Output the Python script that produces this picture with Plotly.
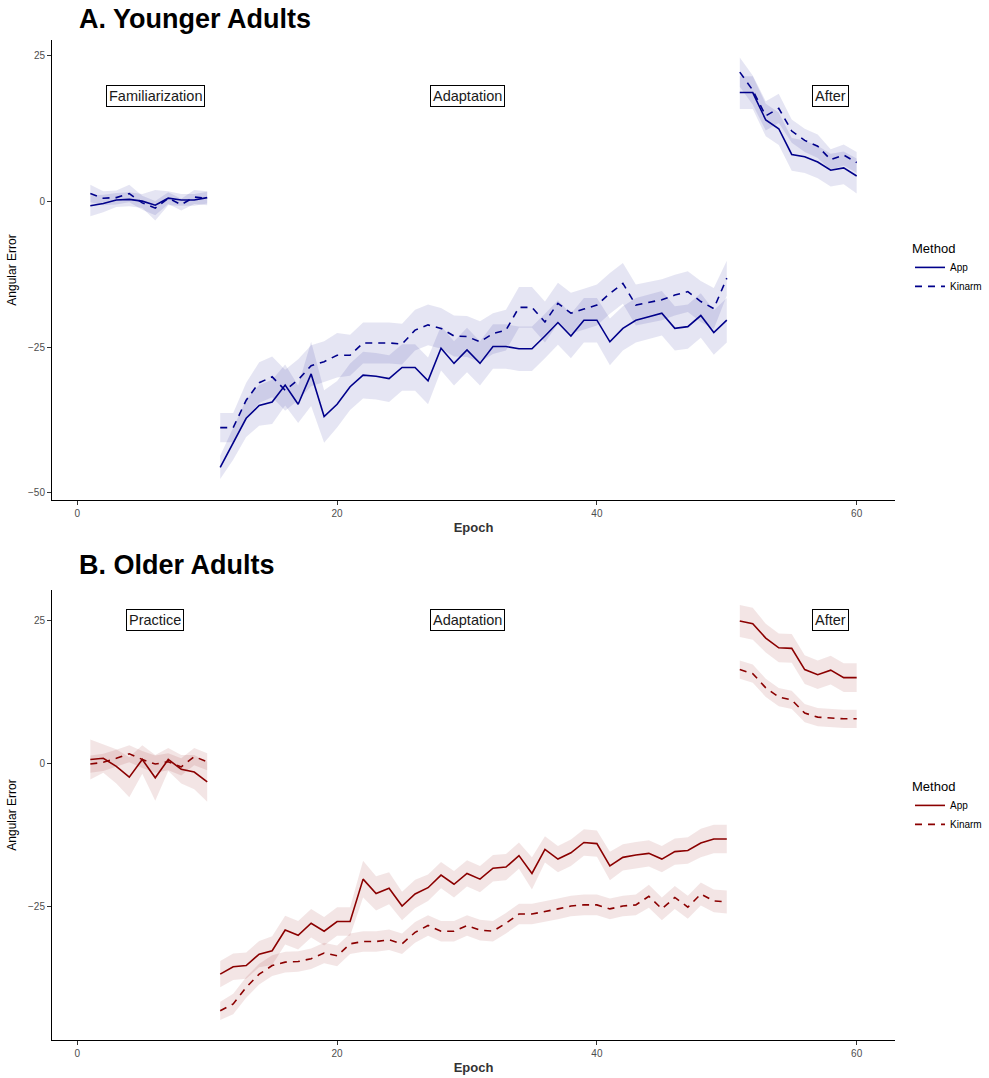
import plotly.graph_objects as go

epochs = list(range(1, 61))

# ---- Panel A: Younger adults ----
young_app = [-0.8, -0.4, 0.2, 0.3, 0.0, -0.7, 0.5, 0.2, 0.2, 0.6,
             -45.6, -41.5, -37.2, -35.0, -34.4, -31.5, -34.8, -29.6, -36.9, -34.8,
             -31.8, -29.8, -30.0, -30.4, -28.5, -28.5, -30.8, -25.2, -27.8, -25.5,
             -27.8, -24.9, -24.9, -25.3, -25.3, -23.1, -20.8, -23.1, -20.4, -20.4,
             -24.1, -21.8, -20.4, -19.8, -19.2, -21.8, -21.5, -19.6, -22.5, -20.4,
             18.6, 18.6, 13.9, 12.4, 8.0, 7.6, 6.7, 5.3, 5.7, 4.3]
young_app_se = [1.8, 1.5, 1.2, 1.2, 1.2, 2.6, 1.2, 1.0, 1.0, 1.0,
                2.0, 2.8, 3.2, 3.5, 3.8, 3.5, 3.2, 5.5, 4.5, 4.0,
                4.0, 4.0, 4.0, 4.0, 4.0, 4.0, 4.0, 3.8, 3.8, 3.8,
                3.8, 3.8, 3.8, 3.8, 3.8, 3.8, 3.8, 3.8, 3.8, 3.8,
                4.0, 3.8, 3.8, 3.8, 3.8, 3.8, 3.8, 3.8, 3.8, 3.8,
                2.8, 2.8, 2.8, 2.8, 2.8, 2.8, 2.8, 2.8, 2.8, 3.0]
young_kin = [1.3, 0.5, 0.6, 1.3, -0.3, -1.2, 0.5, -0.6, 0.7, 0.5,
             -38.8, -38.8, -34.1, -31.1, -30.1, -32.4, -30.6, -28.2, -27.5, -26.4,
             -26.4, -24.3, -24.3, -24.3, -24.5, -22.1, -21.2, -21.8, -23.1, -23.2,
             -24.1, -22.7, -22.1, -18.2, -18.2, -20.7, -17.5, -19.2, -18.5, -17.8,
             -15.8, -14.1, -17.8, -17.4, -16.9, -16.1, -15.5, -17.2, -18.4, -13.2,
             22.1, 19.0, 14.6, 15.9, 12.0, 10.4, 9.4, 7.1, 7.9, 6.6]
young_kin_se = [1.5, 1.2, 1.2, 1.5, 1.2, 1.2, 1.0, 1.0, 1.2, 1.2,
                2.5, 2.5, 3.0, 3.5, 3.5, 3.5, 3.5, 3.5, 3.5, 3.8,
                3.5, 3.5, 3.5, 3.5, 3.5, 3.5, 3.5, 3.5, 3.5, 3.5,
                3.5, 3.5, 3.5, 3.5, 3.5, 3.5, 3.5, 3.5, 3.5, 3.5,
                3.5, 3.5, 3.5, 3.5, 3.5, 3.5, 3.5, 3.5, 3.5, 3.0,
                2.5, 2.5, 2.5, 2.5, 2.0, 2.0, 2.0, 1.8, 1.8, 1.8]

# ---- Panel B: Older adults ----
old_app = [0.7, 0.9, -0.5, -2.4, 0.7, -2.5, 0.7, -1.0, -1.5, -3.2,
           -36.8, -35.5, -35.3, -33.3, -32.7, -29.1, -30.0, -27.9, -29.3, -27.6,
           -27.6, -20.2, -22.7, -21.8, -24.9, -22.8, -21.7, -19.5, -21.1, -19.2,
           -20.2, -18.3, -18.1, -16.1, -19.2, -15.0, -16.7, -15.6, -13.8, -14.0,
           -17.9, -16.4, -16.0, -15.7, -16.7, -15.4, -15.2, -13.9, -13.2, -13.2,
           24.9, 24.4, 21.9, 20.2, 20.1, 16.4, 15.5, 16.3, 15.0, 15.0]
old_app_se = [3.5, 2.5, 3.0, 3.5, 2.5, 4.0, 2.0, 2.5, 3.0, 3.5,
              2.3, 2.3, 2.3, 2.3, 2.5, 2.5, 2.5, 2.5, 2.5, 2.5,
              2.5, 3.2, 3.0, 2.8, 2.5, 2.5, 2.3, 2.3, 2.3, 2.3,
              2.3, 2.3, 2.3, 2.3, 2.8, 2.3, 2.3, 2.3, 2.3, 2.3,
              2.5, 2.3, 2.3, 2.3, 2.3, 2.3, 2.3, 2.5, 2.5, 2.5,
              2.8, 2.8, 2.5, 2.5, 2.5, 2.5, 2.5, 2.5, 2.5, 2.5]
old_kin = [-0.1, 0.2, 0.9, 1.7, 0.7, -0.1, 0.3, -0.6, 1.2, 0.3,
           -43.2, -42.0, -39.1, -36.8, -35.3, -34.7, -34.6, -34.1, -33.1, -33.6,
           -31.5, -31.1, -31.1, -30.8, -31.5, -29.5, -28.3, -29.3, -29.3, -28.3,
           -29.1, -29.3, -27.9, -26.3, -26.3, -25.9, -25.4, -24.9, -24.7, -24.7,
           -25.4, -24.9, -24.7, -23.2, -25.4, -23.4, -25.1, -22.8, -24.0, -24.2,
           16.4, 15.7, 13.2, 11.6, 11.1, 8.8, 8.1, 7.9, 7.8, 7.8]
old_kin_se = [1.5, 1.5, 1.5, 1.5, 1.5, 1.5, 1.5, 1.5, 1.5, 1.5,
              1.6, 1.8, 1.8, 1.8, 1.8, 1.8, 1.8, 1.8, 1.8, 1.8,
              1.8, 1.8, 1.8, 1.8, 1.8, 1.8, 1.8, 1.8, 1.8, 1.8,
              1.8, 1.8, 1.8, 1.8, 1.8, 1.8, 1.8, 1.8, 1.8, 1.8,
              1.8, 1.8, 1.8, 2.0, 2.0, 2.0, 2.0, 2.0, 2.0, 2.0,
              1.6, 1.6, 1.6, 1.6, 1.6, 1.6, 1.6, 1.6, 1.6, 1.6]

phases = [(1, 10), (11, 50), (51, 60)]
young_labels = ["Familiarization", "Adaptation", "After"]
old_labels = ["Practice", "Adaptation", "After"]
label_x = [6, 30, 58]
young_label_y = 18
old_label_y = 25

y_ticks = [25, 0, -25, -50]
x_ticks = [0, 20, 40, 60]

W, H = 989, 1078
fig = go.Figure()


def px_x(p):
    return p / W


def px_y(p):
    return 1 - p / H


panels = [
    dict(app=young_app, app_se=young_app_se, kin=young_kin, kin_se=young_kin_se,
         line="#00008B", fill="rgba(0,0,139,0.10)", xa="x", ya="y", legend="legend",
         labels=young_labels, ly=young_label_y),
    dict(app=old_app, app_se=old_app_se, kin=old_kin, kin_se=old_kin_se,
         line="#8B0000", fill="rgba(139,0,0,0.10)", xa="x2", ya="y2", legend="legend2",
         labels=old_labels, ly=old_label_y),
]

for p in panels:
    for name, vals, se, dash in [("App", p["app"], p["app_se"], "solid"),
                                 ("Kinarm", p["kin"], p["kin_se"], "7px,6px")]:
        for (a, b) in phases:
            xs = epochs[a - 1:b]
            up = [v + s for v, s in zip(vals[a - 1:b], se[a - 1:b])]
            lo = [v - s for v, s in zip(vals[a - 1:b], se[a - 1:b])]
            fig.add_trace(go.Scatter(
                x=xs + xs[::-1], y=up + lo[::-1], fill="toself",
                fillcolor=p["fill"], line=dict(width=0), mode="lines",
                hoverinfo="skip", showlegend=False, xaxis=p["xa"], yaxis=p["ya"]))
        lx, ly = [], []
        for i, (a, b) in enumerate(phases):
            if i > 0:
                lx.append(None)
                ly.append(None)
            lx += epochs[a - 1:b]
            ly += vals[a - 1:b]
        fig.add_trace(go.Scatter(
            x=lx, y=ly, mode="lines", name=name,
            line=dict(color=p["line"], width=1.6, dash=dash),
            connectgaps=False, xaxis=p["xa"], yaxis=p["ya"], legend=p["legend"]))

    for txt, lxv in zip(p["labels"], label_x):
        fig.add_annotation(x=lxv, y=p["ly"], xref=p["xa"], yref=p["ya"], text=txt,
                           showarrow=False, font=dict(size=14.5, color="#1a1a1a",
                                                      family="Liberation Sans, Arial"),
                           bordercolor="#000000", borderwidth=1, borderpad=2,
                           bgcolor="white")

axis_common = dict(showgrid=False, zeroline=False, showline=True, linecolor="#000000",
                   linewidth=1, ticks="outside", ticklen=4, tickcolor="#333333",
                   tickfont=dict(size=10, color="#4d4d4d", family="Liberation Sans, Arial"))

xdom = [px_x(52), px_x(895)]
fig.update_layout(
    width=W, height=H, margin=dict(l=0, r=0, t=0, b=0),
    plot_bgcolor="white", paper_bgcolor="white",
    font=dict(family="Liberation Sans, Arial"),
    xaxis=dict(domain=xdom, anchor="y", range=[-1.95, 62.95], tickvals=x_ticks,
               title=dict(text="<b>Epoch</b>", font=dict(size=13, color="#333333"), standoff=4),
               **axis_common),
    yaxis=dict(domain=[px_y(500), px_y(40)], anchor="x", range=[-51.2, 27.6],
               tickvals=y_ticks,
               title=dict(text="Angular Error", font=dict(size=12, color="#000000"), standoff=8),
               **axis_common),
    xaxis2=dict(domain=xdom, anchor="y2", range=[-1.95, 62.95], tickvals=x_ticks,
                title=dict(text="<b>Epoch</b>", font=dict(size=13, color="#333333"), standoff=4),
                **axis_common),
    yaxis2=dict(domain=[px_y(1040), px_y(590)], anchor="x2", range=[-48.3, 30.3],
                tickvals=y_ticks,
                title=dict(text="Angular Error", font=dict(size=12, color="#000000"), standoff=8),
                **axis_common),
    legend=dict(x=px_x(910), y=px_y(236), xanchor="left", yanchor="top",
                title=dict(text="Method", font=dict(size=13, color="#000000")),
                font=dict(size=10, color="#000000"), bgcolor="rgba(0,0,0,0)",
                tracegroupgap=0, itemwidth=30),
    legend2=dict(x=px_x(910), y=px_y(774), xanchor="left", yanchor="top",
                 title=dict(text="Method", font=dict(size=13, color="#000000")),
                 font=dict(size=10, color="#000000"), bgcolor="rgba(0,0,0,0)",
                 tracegroupgap=0, itemwidth=30),
)

fig.add_annotation(x=px_x(77), y=px_y(19), xref="paper", yref="paper", xanchor="left",
                   yanchor="middle", showarrow=False, text="<b>A. Younger Adults</b>",
                   font=dict(size=27, color="#000000", family="Liberation Sans, Arial"))
fig.add_annotation(x=px_x(77), y=px_y(565), xref="paper", yref="paper", xanchor="left",
                   yanchor="middle", showarrow=False, text="<b>B. Older Adults</b>",
                   font=dict(size=27, color="#000000", family="Liberation Sans, Arial"))

# remove the default 8px page margin so the figure fills the window exactly
fig.write_html("out.html",
               config={"displayModeBar": False},
               post_script="document.body.style.margin='0px';document.body.style.overflow='hidden';")
